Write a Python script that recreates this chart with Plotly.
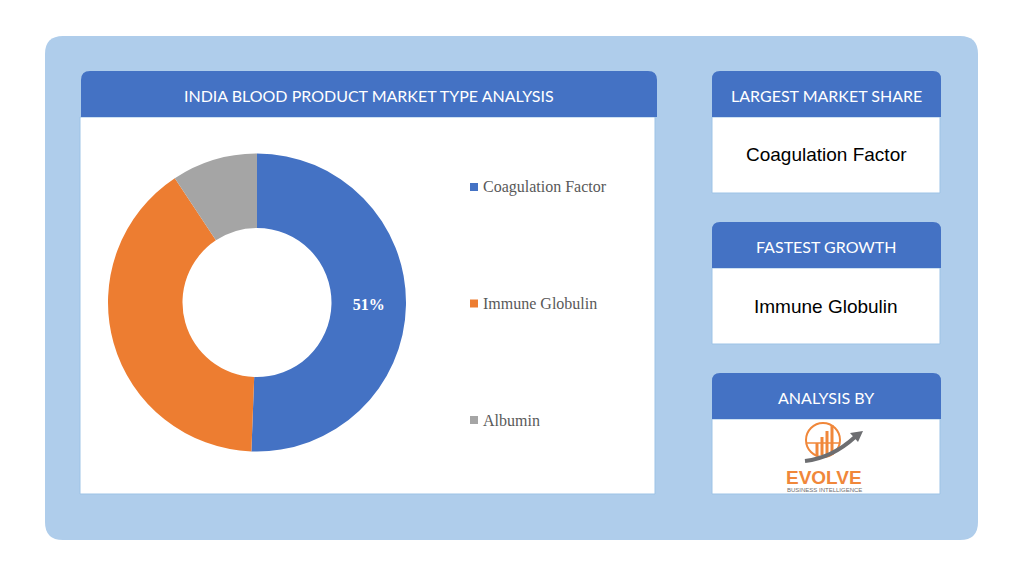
import plotly.graph_objects as go

# page body has an 8px margin, so the figure is sized to fit inside the window
OFF = 8
W, H = 1024 - 2 * OFF, 576 - 2 * OFF

# ---- data ----
labels = ["Coagulation Factor", "Immune Globulin", "Albumin"]
values = [50.6, 40.1, 9.3]
slice_colors = ["#4472C4", "#ED7D31", "#A5A5A5"]
slice_text = ["51%", "", ""]
chart_title = "INDIA BLOOD PRODUCT MARKET TYPE ANALYSIS"
card_titles = ["LARGEST MARKET SHARE", "FASTEST GROWTH", "ANALYSIS BY"]
card_values = ["Coagulation Factor", "Immune Globulin", ""]

HEADER_BLUE = "#4472C4"
PANEL_BLUE = "#AFCDEB"
BORDER_BLUE = "#9DC3E6"
ORANGE = "#F0873A"


def X(px):
    return (px - OFF) / W


def Y(py):
    return 1 - (py - OFF) / H


def rrect_path(x0, y0, x1, y1, r, top_only=False):
    pts = []
    pts.append(f"M {X(x0)},{Y(y1 - (0 if top_only else r))}")
    pts.append(f"L {X(x0)},{Y(y0 + r)}")
    pts.append(f"Q {X(x0)},{Y(y0)} {X(x0 + r)},{Y(y0)}")
    pts.append(f"L {X(x1 - r)},{Y(y0)}")
    pts.append(f"Q {X(x1)},{Y(y0)} {X(x1)},{Y(y0 + r)}")
    if top_only:
        pts.append(f"L {X(x1)},{Y(y1)}")
    else:
        pts.append(f"L {X(x1)},{Y(y1 - r)}")
        pts.append(f"Q {X(x1)},{Y(y1)} {X(x1 - r)},{Y(y1)}")
        pts.append(f"L {X(x0 + r)},{Y(y1)}")
        pts.append(f"Q {X(x0)},{Y(y1)} {X(x0)},{Y(y1 - r)}")
    pts.append("Z")
    return " ".join(pts)


shapes = []
annotations = []

# outer panel
shapes.append(dict(type="path", path=rrect_path(45, 36, 978, 540, 18), xref="paper", yref="paper",
                   fillcolor=PANEL_BLUE, line=dict(width=0), layer="below"))

# left chart box
shapes.append(dict(type="rect", xref="paper", yref="paper", x0=X(80), x1=X(655), y0=Y(494), y1=Y(117),
                   fillcolor="white", line=dict(color=BORDER_BLUE, width=1), layer="below"))
shapes.append(dict(type="path", path=rrect_path(81, 71, 657, 117, 9, top_only=True), xref="paper", yref="paper",
                   fillcolor=HEADER_BLUE, line=dict(width=0), layer="below"))
annotations.append(dict(text=chart_title, x=X(369), y=Y(95), xref="paper", yref="paper", showarrow=False,
                        xanchor="center", yanchor="middle",
                        font=dict(family="Lato", size=16, color="white")))

# right cards
card_tops = [71, 222, 373]
card_bottoms = [193, 344, 494]
for i, t in enumerate(card_titles):
    top = card_tops[i]
    bot = card_bottoms[i]
    shapes.append(dict(type="rect", xref="paper", yref="paper", x0=X(712), x1=X(940), y0=Y(bot), y1=Y(top + 46),
                       fillcolor="white", line=dict(color=BORDER_BLUE, width=1), layer="below"))
    shapes.append(dict(type="path", path=rrect_path(712, top, 941, top + 46, 8, top_only=True),
                       xref="paper", yref="paper", fillcolor=HEADER_BLUE, line=dict(width=0), layer="below"))
    annotations.append(dict(text=t, x=X(826), y=Y(top + 24), xref="paper", yref="paper", showarrow=False,
                            xanchor="center", yanchor="middle",
                            font=dict(family="Lato", size=16, color="white")))
    if card_values[i]:
        annotations.append(dict(text=card_values[i], x=X(826), y=Y(top + 84), xref="paper", yref="paper",
                                showarrow=False, xanchor="center", yanchor="middle",
                                font=dict(family="Liberation Sans", size=19, color="black")))

# legend (drawn manually for the wide vertical spacing)
for i, lab in enumerate(labels):
    cy = 187 + i * 116.5
    shapes.append(dict(type="rect", xref="paper", yref="paper", x0=X(470), x1=X(478), y0=Y(cy + 4), y1=Y(cy - 4),
                       fillcolor=slice_colors[i], line=dict(width=0)))
    annotations.append(dict(text=lab, x=X(481), y=Y(cy), xref="paper", yref="paper", showarrow=False,
                            xanchor="left", yanchor="middle",
                            font=dict(family="Liberation Serif", size=16, color="#595959")))

# logo
shapes.append(dict(type="circle", xref="paper", yref="paper", x0=X(806), x1=X(840), y0=Y(457), y1=Y(423),
                   line=dict(color=ORANGE, width=2)))
shapes.append(dict(type="line", xref="paper", yref="paper", x0=X(807), x1=X(839), y0=Y(443), y1=Y(443),
                   line=dict(color=ORANGE, width=1.5)))
for bx, bt in [(817, 443), (822, 437), (827, 431), (832, 425)]:
    shapes.append(dict(type="rect", xref="paper", yref="paper", x0=X(bx - 1.5), x1=X(bx + 1.5),
                       y0=Y(455), y1=Y(bt), fillcolor=ORANGE, line=dict(width=0)))
shapes.append(dict(type="path", xref="paper", yref="paper",
                   path=f"M {X(805)},{Y(461)} Q {X(832)},{Y(458)} {X(855)},{Y(437)}",
                   line=dict(color="#6D6E71", width=4)))
shapes.append(dict(type="path", xref="paper", yref="paper",
                   path=f"M {X(863)},{Y(431)} L {X(850)},{Y(433)} L {X(858)},{Y(442)} Z",
                   fillcolor="#6D6E71", line=dict(width=0)))
annotations.append(dict(text="<b>EVOLVE</b>", x=X(824), y=Y(477), xref="paper", yref="paper", showarrow=False,
                        xanchor="center", yanchor="middle",
                        font=dict(family="Liberation Sans", size=19, color=ORANGE)))
annotations.append(dict(text="BUSINESS INTELLIGENCE", x=X(824), y=Y(489.5), xref="paper", yref="paper",
                        showarrow=False, xanchor="center", yanchor="middle",
                        font=dict(family="Liberation Sans", size=6, color="#6D6E71")))

fig = go.Figure()
fig.add_trace(go.Pie(
    labels=labels,
    values=values,
    text=slice_text,
    texttemplate="%{text}",
    textposition="inside",
    insidetextorientation="horizontal",
    textfont=dict(family="Liberation Serif", size=16, color="white", weight="bold"),
    hole=0.5,
    sort=False,
    direction="clockwise",
    rotation=0,
    marker=dict(colors=slice_colors, line=dict(width=0)),
    domain=dict(x=[X(108), X(406)], y=[Y(451.5), Y(153.5)]),
    showlegend=False,
    hoverinfo="label+percent",
))

fig.update_layout(
    width=W, height=H,
    margin=dict(l=0, r=0, t=0, b=0),
    paper_bgcolor="white",
    plot_bgcolor="white",
    shapes=shapes,
    annotations=annotations,
    showlegend=False,
)

fig.write_html("out.html")
